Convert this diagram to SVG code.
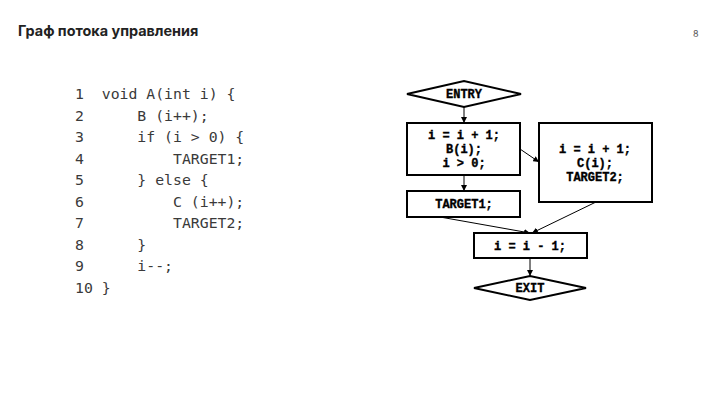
<svg xmlns="http://www.w3.org/2000/svg" width="720" height="405" viewBox="0 0 720 405">
<defs>
<marker id="ah" viewBox="0 0 10 10" refX="10" refY="5" markerWidth="6" markerHeight="6" orient="auto" markerUnits="userSpaceOnUse"><path d="M0,0 L10,5 L0,10 z" fill="#000"/></marker>
<style>
.title{font-family:Inter,"Noto Sans",sans-serif;font-weight:700;font-size:14.4px;fill:#222}
.pg{font-family:Inter,"Noto Sans",sans-serif;font-size:9px;fill:#555}
.code{font-family:"DejaVu Sans Mono","Liberation Mono",monospace;font-size:14.8px;fill:#3a3a3a;white-space:pre}
.n{fill:#fff;stroke:#000;stroke-width:2}
.lbl{font-family:"Liberation Mono","Courier New",monospace;font-weight:700;font-size:12px;fill:#000;stroke:#000;stroke-width:0.35;text-anchor:middle}
.e{stroke:#000;stroke-width:1;fill:none;marker-end:url(#ah)}
</style>
</defs>
<rect width="720" height="405" fill="#fff"/>
<text class="title" x="18" y="36">Граф потока управления</text>
<text class="pg" x="693" y="37">8</text>
<g id="code">
<text class="code" x="75" y="99" xml:space="preserve">1  void A(int i) {</text>
<text class="code" x="75" y="120.5" xml:space="preserve">2      B (i++);</text>
<text class="code" x="75" y="142" xml:space="preserve">3      if (i > 0) {</text>
<text class="code" x="75" y="163.5" xml:space="preserve">4          TARGET1;</text>
<text class="code" x="75" y="185" xml:space="preserve">5      } else {</text>
<text class="code" x="75" y="206.5" xml:space="preserve">6          C (i++);</text>
<text class="code" x="75" y="228" xml:space="preserve">7          TARGET2;</text>
<text class="code" x="75" y="249.5" xml:space="preserve">8      }</text>
<text class="code" x="75" y="271" xml:space="preserve">9      i--;</text>
<text class="code" x="75" y="292.5" xml:space="preserve">10 }</text>
</g>
<g id="connectors">
<line class="e" x1="464" y1="107" x2="464" y2="123"/>
<line class="e" x1="464" y1="175" x2="464" y2="191"/>
<line class="e" x1="520" y1="149" x2="539" y2="162"/>
<line class="e" x1="440" y1="217" x2="530" y2="233"/>
<line class="e" x1="596" y1="202" x2="532" y2="233"/>
<line class="e" x1="530" y1="258" x2="530" y2="276"/>
</g>
<g id="entry">
<polygon class="n" points="407,94 464,81 521,94 464,107"/>
<text class="lbl" x="464" y="98">ENTRY</text>
</g>
<g id="b1">
<rect class="n" x="407" y="123" width="113" height="52"/>
<text class="lbl" x="464" y="139">i = i + 1;</text>
<text class="lbl" x="464" y="153">B(i);</text>
<text class="lbl" x="464" y="167">i > 0;</text>
</g>
<g id="t1">
<rect class="n" x="407" y="191" width="113" height="26"/>
<text class="lbl" x="464" y="208">TARGET1;</text>
</g>
<g id="b2">
<rect class="n" x="539" y="123" width="113" height="79"/>
<text class="lbl" x="595" y="153">i = i + 1;</text>
<text class="lbl" x="595" y="167">C(i);</text>
<text class="lbl" x="595" y="181">TARGET2;</text>
</g>
<g id="b3">
<rect class="n" x="474" y="233" width="113" height="25"/>
<text class="lbl" x="530" y="250">i = i - 1;</text>
</g>
<g id="exit">
<polygon class="n" points="474,288 530,276 586,288 530,300"/>
<text class="lbl" x="530" y="292">EXIT</text>
</g>
</svg>
